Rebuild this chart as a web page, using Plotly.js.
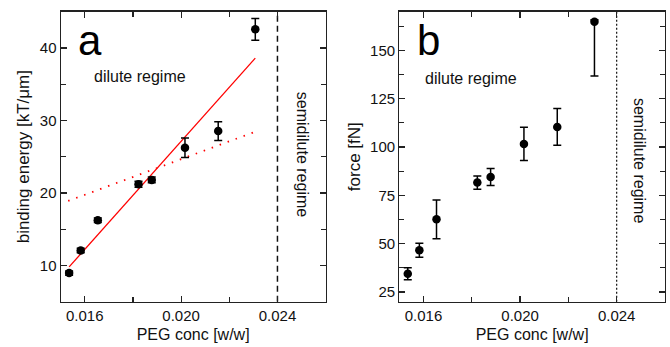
<!DOCTYPE html>
<html>
<head>
<meta charset="utf-8">
<script src="https://cdn.plot.ly/plotly-3.0.1.min.js"></script>
<style>html,body{margin:0;padding:0;background:#fff}#chart{width:670px;height:347px}</style>
</head>
<body>
<div id="chart"></div>
<script>
// PEG concentration [w/w]
const pegConc = [0.01535, 0.01583, 0.01654, 0.01823, 0.01878, 0.02016, 0.02154, 0.02308];
// panel a: binding energy [kT/um]
const bindingEnergy = [8.95, 12.06, 16.24, 21.2, 21.8, 26.23, 28.53, 42.57];
const bindingErr = [0.3, 0.3, 0.3, 0.4, 0.4, 1.35, 1.3, 1.5];
// fit lines (panel a)
const fitSolidX = [0.01535, 0.02308];
const fitSolidY = [9.8, 38.6];
const fitDotX = [0.01531, 0.0230];
const fitDotY = [18.9, 28.35];
// panel b: force [fN]
const force = [34.5, 46.6, 62.6, 81.6, 84.5, 101.6, 110.4, 164.8];
const forceErrPlus = [3.1, 3.6, 10, 3.4, 4.4, 8.6, 9.5, 1];
const forceErrMinus = [3.1, 3.6, 10, 3.4, 4.4, 8.6, 9.5, 28];
// boundary between regimes
const boundary = 0.024;

const font = "Liberation Sans, Arial, sans-serif";
const traces = [
  {x: fitSolidX, y: fitSolidY, mode: 'lines', line: {color: '#ff0000', width: 1.3}, xaxis: 'x', yaxis: 'y', hoverinfo: 'skip'},
  {x: fitDotX, y: fitDotY, mode: 'lines', line: {color: '#ff0000', width: 1.8, dash: '1.5px,7px'}, xaxis: 'x', yaxis: 'y', hoverinfo: 'skip'},
  {x: [boundary, boundary], y: [5, 45], mode: 'lines', line: {color: '#111', width: 1.5, dash: '6px,4px'}, xaxis: 'x', yaxis: 'y'},
  {x: pegConc, y: bindingEnergy, mode: 'markers', marker: {color: '#000', size: 8.5},
   error_y: {type: 'data', array: bindingErr, color: '#000', thickness: 1.5, width: 4}, xaxis: 'x', yaxis: 'y'},
  {x: [boundary, boundary], y: [20, 170], mode: 'lines', line: {color: '#111', width: 1.2, dash: '2px,2px'}, xaxis: 'x2', yaxis: 'y2'},
  {x: pegConc, y: force, mode: 'markers', marker: {color: '#000', size: 8.5},
   error_y: {type: 'data', symmetric: false, array: forceErrPlus, arrayminus: forceErrMinus, color: '#000', thickness: 1.5, width: 4}, xaxis: 'x2', yaxis: 'y2'}
];

const axCommon = {
  showgrid: false, zeroline: false, showline: true, linecolor: '#222', linewidth: 1.2,
  mirror: 'allticks', ticks: 'inside', ticklen: 6, tickwidth: 1.2, tickcolor: '#222',
  tickfont: {family: font, size: 15, color: '#111'}
};
const xCommon = Object.assign({}, axCommon, {
  range: [0.015, 0.026], tickvals: [0.016, 0.020, 0.024], ticktext: ['0.016', '0.020', '0.024'],
  minor: {tickvals: [0.018, 0.022, 0.026], ticks: 'inside', ticklen: 5, tickcolor: '#222', tickwidth: 1.2},
  title: {text: 'PEG conc [w/w]', font: {family: font, size: 16, color: '#111'}, standoff: 5}
});

const layout = {
  width: 670, height: 347,
  margin: {l: 0, r: 0, t: 0, b: 0},
  paper_bgcolor: '#fff', plot_bgcolor: '#fff',
  showlegend: false,
  xaxis: Object.assign({}, xCommon, {domain: [0.0906, 0.486], anchor: 'y'}),
  xaxis2: Object.assign({}, xCommon, {domain: [0.596, 0.9925], anchor: 'y2'}),
  yaxis: Object.assign({}, axCommon, {domain: [0.1305, 0.9663], anchor: 'x', range: [5, 45],
    tickvals: [10, 20, 30, 40],
    minor: {tickvals: [15, 25, 35], ticks: 'inside', ticklen: 5, tickcolor: '#222', tickwidth: 1.2},
    title: {text: 'binding energy [kT/μm]', font: {family: font, size: 17, color: '#111'}, standoff: 5}}),
  yaxis2: Object.assign({}, axCommon, {domain: [0.1305, 0.9663], anchor: 'x2', range: [20, 170],
    tickvals: [25, 50, 75, 100, 125, 150],
    minor: {tickvals: [37.5, 62.5, 87.5, 112.5, 137.5, 162.5], ticks: 'inside', ticklen: 5, tickcolor: '#222', tickwidth: 1.2},
    title: {text: 'force [fN]', font: {family: font, size: 17, color: '#111'}, standoff: 5}}),
  annotations: [
    {xref: 'x', yref: 'y', x: 0.01565, y: 41.0, text: 'a', showarrow: false, xanchor: 'left', yanchor: 'middle', font: {family: font, size: 42, color: '#000'}},
    {xref: 'x2', yref: 'y2', x: 0.01565, y: 155, text: 'b', showarrow: false, xanchor: 'left', yanchor: 'middle', font: {family: font, size: 42, color: '#000'}},
    {xref: 'x', yref: 'y', x: 0.0183, y: 36.0, text: 'dilute regime', showarrow: false, xanchor: 'center', yanchor: 'middle', font: {family: font, size: 16, color: '#111'}},
    {xref: 'x2', yref: 'y2', x: 0.01797, y: 135.3, text: 'dilute regime', showarrow: false, xanchor: 'center', yanchor: 'middle', font: {family: font, size: 16, color: '#111'}},
    {xref: 'x', yref: 'y', x: 0.02505, y: 25.3, text: 'semidilute regime', textangle: 90, showarrow: false, xanchor: 'center', yanchor: 'middle', font: {family: font, size: 16, color: '#111'}},
    {xref: 'x2', yref: 'y2', x: 0.02495, y: 93, text: 'semidilute regime', textangle: 90, showarrow: false, xanchor: 'center', yanchor: 'middle', font: {family: font, size: 16, color: '#111'}}
  ]
};

Plotly.newPlot('chart', traces, layout, {staticPlot: true, displayModeBar: false});
</script>
</body>
</html>
